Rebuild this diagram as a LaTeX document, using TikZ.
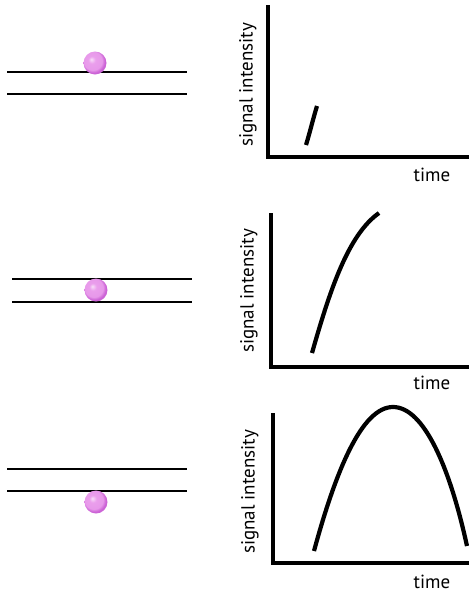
\documentclass[tikz,border=0pt]{standalone}
\usepackage{fontspec}
\setmainfont{PT Sans}
\usepackage{tikz}
\usepackage{xcolor}

\definecolor{beadlight}{RGB}{248,222,248}
\definecolor{beadmid}{RGB}{234,158,236}
\definecolor{beadedge}{RGB}{204,100,214}
\pgfdeclareradialshading{bead}{\pgfqpoint{-8bp}{8bp}}{color(0bp)=(beadlight); color(8bp)=(beadmid); color(20bp)=(beadmid!90!beadedge); color(25bp)=(beadedge); color(50bp)=(beadedge)}

\tikzset{
  membrane/.style={line width=2pt, color=black},
  axisline/.style={line width=4.5pt, color=black, line join=miter},
  trace/.style={line width=4.2pt, color=black},
  bead/.style={shading=bead, draw=none},
  axislabel/.style={font=\fontsize{19}{22}\selectfont, inner sep=0pt}
}

\begin{document}
\begin{tikzpicture}[x=1pt, y=-1pt]
  \useasboundingbox (0,0) rectangle (469,595);

  % top panel
  \draw[membrane] (7,72) -- (187,72);
  \draw[membrane] (7,94) -- (187,94);
  \shade[bead] (95,63) circle (11.5pt);
  \draw[axisline] (268,5) -- (268,157) -- (469,157);
  \draw[trace] (306,145) .. controls (310,132) and (313,119) .. (317,106);
  \node[axislabel, rotate=90] (ylabA) at (248,85) {signal intensity};
  \node[axislabel] (xlabA) at (432,175) {time};

  % middle panel
  \draw[membrane] (12,279) -- (192,279);
  \draw[membrane] (12,302) -- (192,302);
  \shade[bead] (96,290) circle (11.5pt);
  \draw[axisline] (271,213) -- (271,367) -- (469,367);
  \draw[trace] (312,353) .. controls (330,290) and (348,235) .. (379,213);
  \node[axislabel, rotate=90] (ylabB) at (249,291) {signal intensity};
  \node[axislabel] (xlabB) at (432,383) {time};

  % bottom panel
  \draw[membrane] (7,469) -- (187,469);
  \draw[membrane] (7,491) -- (187,491);
  \shade[bead] (96,502) circle (11.5pt);
  \draw[axisline] (273,413) -- (273,563) -- (469,563);
  \draw[trace] (314,551) .. controls (336,470) and (362,407) .. (393,407)
    .. controls (424,407) and (450,468) .. (467,546);
  \node[axislabel, rotate=90] (ylabC) at (250,492) {signal intensity};
  \node[axislabel] (xlabC) at (432,582) {time};
\end{tikzpicture}
\end{document}
